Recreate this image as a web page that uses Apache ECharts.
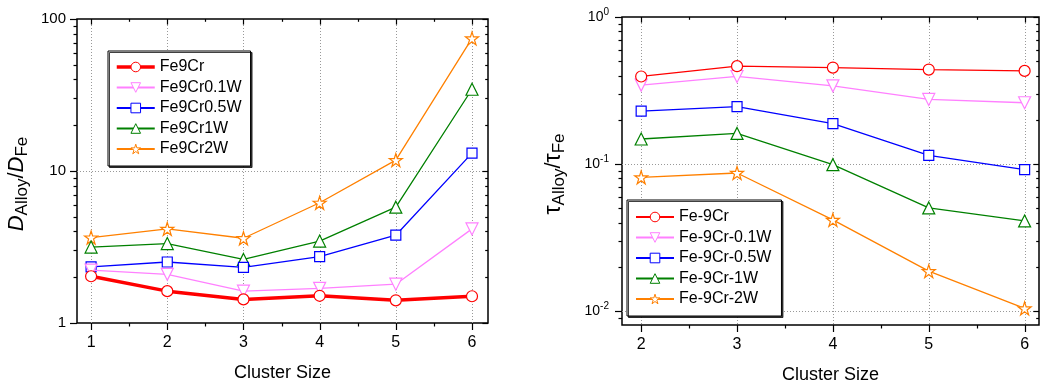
<!DOCTYPE html>
<html><head><meta charset="utf-8">
<script src="https://cdn.jsdelivr.net/npm/echarts@6/dist/echarts.min.js"></script>
<style>html,body{margin:0;padding:0;background:#fff}#c{width:1040px;height:382px}</style>
</head><body><div id="c"></div>
<script>
// ---- data ----
const clusterLeft = [1, 2, 3, 4, 5, 6];
const clusterRight = [2, 3, 4, 5, 6];
const namesLeft = ['Fe9Cr', 'Fe9Cr0.1W', 'Fe9Cr0.5W', 'Fe9Cr1W', 'Fe9Cr2W'];
const namesRight = ['Fe-9Cr', 'Fe-9Cr-0.1W', 'Fe-9Cr-0.5W', 'Fe-9Cr-1W', 'Fe-9Cr-2W'];
const dFe9Cr    = [2.03, 1.62, 1.43, 1.51, 1.41, 1.50];
const dFe9Cr01W = [2.23, 2.09, 1.62, 1.69, 1.80, 4.16];
const dFe9Cr05W = [2.34, 2.52, 2.32, 2.73, 3.78, 13.1];
const dFe9Cr1W  = [3.16, 3.33, 2.62, 3.46, 5.78, 34.5];
const dFe9Cr2W  = [3.65, 4.16, 3.61, 6.18, 11.8, 74.5];
const tFe9Cr    = [0.394, 0.463, 0.453, 0.439, 0.430];
const tFe9Cr01W = [0.344, 0.394, 0.340, 0.275, 0.261];
const tFe9Cr05W = [0.229, 0.246, 0.188, 0.1146, 0.0916];
const tFe9Cr1W  = [0.148, 0.1615, 0.0990, 0.0503, 0.0410];
const tFe9Cr2W  = [0.0812, 0.0869, 0.0417, 0.01868, 0.01043];
// tick values
const leftXMajor = [1, 2, 3, 4, 5, 6];
const leftXMinor = [1.5, 2.5, 3.5, 4.5, 5.5];
const leftYMajor = [1, 10, 100];
const leftYMinor = [2, 3, 4, 5, 6, 7, 8, 9, 20, 30, 40, 50, 60, 70, 80, 90];
const leftYGrid = [10];
const rightXMajor = [2, 3, 4, 5, 6];
const rightXMinor = [2.5, 3.5, 4.5, 5.5];
const rightYMajor = [0.01, 0.1, 1];
const rightYMinor = [0.009, 0.02, 0.03, 0.04, 0.05, 0.06, 0.07, 0.08, 0.09, 0.2, 0.3, 0.4, 0.5, 0.6, 0.7, 0.8, 0.9];
const rightYGrid = [0.1, 0.01];

// ---- styles ----
const FONT = "'Liberation Sans', Arial, sans-serif";
const colors = ['#ff0000', '#ff80ff', '#0000ff', '#008000', '#ff8000'];
const STAR = 'path://M50,0 L61.2,34.5 L97.6,34.5 L68.2,55.9 L79.4,90.5 L50,69.1 L20.6,90.5 L31.8,55.9 L2.4,34.5 L38.8,34.5 Z';
const symbols = ['circle', 'triangle', 'rect', 'triangle', STAR];
const symRot = [0, 180, 0, 0, 0];
const symSize = [11, 12, 10, 12, 13];

const L = {xMin: 0.815, xMax: 6.21, yMin: 1, yMax: 100};
const R = {xMin: 1.8, xMax: 6.15, yMin: 0.00804, yMax: 1};

function lineSeries(name, idx, xs, ys, axis, width) {
  return {
    type: 'line', name: name, xAxisIndex: axis, yAxisIndex: axis,
    data: xs.map((x, i) => [x, ys[i]]),
    symbol: symbols[idx], symbolRotate: symRot[idx], symbolSize: symSize[idx],
    lineStyle: {color: colors[idx], width: width},
    itemStyle: {color: '#fff', borderColor: colors[idx], borderWidth: 1.2},
    emphasis: {disabled: true}, z: 10 - idx, animation: false
  };
}

function frameRender(params, api) {
  const cs = params.coordSys;
  const k = api.value(2), len = api.value(3);
  const p = api.coord([api.value(0), api.value(1)]);
  const tick = {stroke: '#000', lineWidth: 1.2};
  const grid = {stroke: '#999', lineWidth: 1, lineDash: [1, 2]};
  const b = cs.y + cs.height, r = cs.x + cs.width;
  if (k === 0) {
    const x = Math.round(p[0]) + 0.5;
    return {type: 'group', children: [
      {type: 'line', shape: {x1: x, y1: b, x2: x, y2: b + len}, style: tick},
      {type: 'line', shape: {x1: x, y1: cs.y, x2: x, y2: cs.y + len * 0.8}, style: tick}]};
  } else if (k === 1) {
    const y = Math.round(p[1]) + 0.5;
    return {type: 'group', children: [
      {type: 'line', shape: {x1: cs.x, y1: y, x2: cs.x - len, y2: y}, style: tick},
      {type: 'line', shape: {x1: r, y1: y, x2: r - len * 0.8, y2: y}, style: tick}]};
  } else if (k === 2) {
    const x = Math.round(p[0]) + 0.5;
    return {type: 'line', shape: {x1: x, y1: cs.y, x2: x, y2: b}, style: grid};
  } else {
    const y = Math.round(p[1]) + 0.5;
    return {type: 'line', shape: {x1: cs.x, y1: y, x2: r, y2: y}, style: grid};
  }
}
function frameSeries(axis, lim, xMaj, xMin, yMaj, yMin, xGrid, yGrid) {
  const ticks = [], grids = [];
  xMaj.forEach(v => ticks.push([v, lim.yMin, 0, 7]));
  xMin.forEach(v => ticks.push([v, lim.yMin, 0, 3.5]));
  yMaj.forEach(v => ticks.push([lim.xMin, v, 1, 7]));
  yMin.forEach(v => ticks.push([lim.xMin, v, 1, 3.5]));
  xGrid.forEach(v => grids.push([v, lim.yMin, 2, 0]));
  yGrid.forEach(v => grids.push([lim.xMin, v, 3, 0]));
  return [
    {type: 'custom', xAxisIndex: axis, yAxisIndex: axis, data: grids, renderItem: frameRender, z: 1, silent: true, clip: false, animation: false},
    {type: 'custom', xAxisIndex: axis, yAxisIndex: axis, data: ticks, renderItem: frameRender, z: 20, silent: true, clip: false, animation: false}
  ];
}

const leftVals = [dFe9Cr, dFe9Cr01W, dFe9Cr05W, dFe9Cr1W, dFe9Cr2W];
const rightVals = [tFe9Cr, tFe9Cr01W, tFe9Cr05W, tFe9Cr1W, tFe9Cr2W];
const series = [];
series.push(...frameSeries(0, L, leftXMajor, leftXMinor, leftYMajor, leftYMinor, leftXMajor, leftYGrid));
series.push(...frameSeries(1, R, rightXMajor, rightXMinor, rightYMajor, rightYMinor, rightXMajor, rightYGrid));
leftVals.forEach((v, i) => series.push(lineSeries(namesLeft[i], i, clusterLeft, v, 0, i === 0 ? 3.5 : 1.3)));
rightVals.forEach((v, i) => series.push(lineSeries(namesRight[i], i, clusterRight, v, 1, 1.3)));

function xAxis(gi, lim, labels) {
  return {
    type: 'value', gridIndex: gi, min: lim.xMin, max: lim.xMax,
    axisLine: {show: false}, axisTick: {show: false}, splitLine: {show: false},
    axisLabel: {customValues: labels, color: '#000', fontSize: 16, fontFamily: FONT, margin: 12},
    name: 'Cluster Size', nameLocation: 'middle', nameGap: 41,
    nameTextStyle: {color: '#000', fontSize: 18, fontFamily: FONT}
  };
}
const legendBase = {
  orient: 'vertical', borderColor: '#000', borderWidth: 1, backgroundColor: '#fff',
  shadowColor: 'rgba(0,0,0,0.75)', shadowOffsetX: 1.5, shadowOffsetY: 1.5, shadowBlur: 0,
  itemWidth: 38, itemHeight: 12, itemGap: 4.5, selectedMode: false,
  itemStyle: {color: '#fff', borderWidth: 1},
  textStyle: {color: '#000', fontSize: 16, fontFamily: FONT, lineHeight: 14}
};
const leftLegendData = namesLeft.map((n, i) => i === 0 ? {name: n, lineStyle: {width: 3.5}} : {name: n});

const option = {
  animation: false,
  backgroundColor: '#fff',
  grid: [
    {left: 77, top: 19, width: 411, height: 304, outerBoundsMode: 'none', containLabel: false, show: true, borderColor: '#000', borderWidth: 1.5, backgroundColor: 'transparent'},
    {left: 622, top: 17, width: 417, height: 308, outerBoundsMode: 'none', containLabel: false, show: true, borderColor: '#000', borderWidth: 1.5, backgroundColor: 'transparent'}
  ],
  xAxis: [xAxis(0, L, leftXMajor), xAxis(1, R, rightXMajor)],
  yAxis: [
    {type: 'log', logBase: 10, gridIndex: 0, min: L.yMin, max: L.yMax,
     axisLine: {show: false}, axisTick: {show: false}, splitLine: {show: false},
     axisLabel: {customValues: leftYMajor, color: '#000', fontSize: 15, fontFamily: FONT, margin: 11},
     name: '{i|D}{s|Alloy}{n|/}{i|D}{s|Fe}', nameLocation: 'middle', nameGap: 46, nameRotate: 90,
     nameTextStyle: {color: '#000', fontFamily: FONT, padding: [0, 26, 0, 0], rich: {
       i: {fontStyle: 'italic', fontSize: 22, fontFamily: FONT, color: '#000'},
       n: {fontSize: 22, fontFamily: FONT, color: '#000'},
       s: {fontSize: 17, fontFamily: FONT, color: '#000', padding: [11, 0, 0, 0]}}}},
    {type: 'log', logBase: 10, gridIndex: 1, min: R.yMin, max: R.yMax,
     axisLine: {show: false}, axisTick: {show: false}, splitLine: {show: false},
     axisLabel: {customValues: rightYMajor, color: '#000', fontSize: 14, fontFamily: FONT, margin: 13,
       formatter: v => '10{sup|' + Math.round(Math.log10(v)) + '}',
       rich: {sup: {fontSize: 10, fontFamily: FONT, color: '#000', padding: [0, 0, 9, 0]}}},
     name: '{t|τ}{s|Alloy}{n|/}{t|τ}{s|Fe}', nameLocation: 'middle', nameGap: 54, nameRotate: 90,
     nameTextStyle: {color: '#000', fontFamily: FONT, padding: [0, 6, 0, 0], rich: {
       t: {fontSize: 23, fontFamily: FONT, color: '#000'},
       n: {fontSize: 22, fontFamily: FONT, color: '#000'},
       s: {fontSize: 17, fontFamily: FONT, color: '#000', padding: [11, 0, 0, 0]}}}}
  ],
  legend: [
    Object.assign({}, legendBase, {data: leftLegendData, left: 108, top: 51, padding: [8, 9, 9, 7]}),
    Object.assign({}, legendBase, {data: namesRight, left: 627, top: 200, padding: [9, 10, 9, 8]})
  ],
  series: series
};
const chart = echarts.init(document.getElementById('c'), null, {renderer: 'canvas'});
chart.setOption(option);
</script></body></html>
